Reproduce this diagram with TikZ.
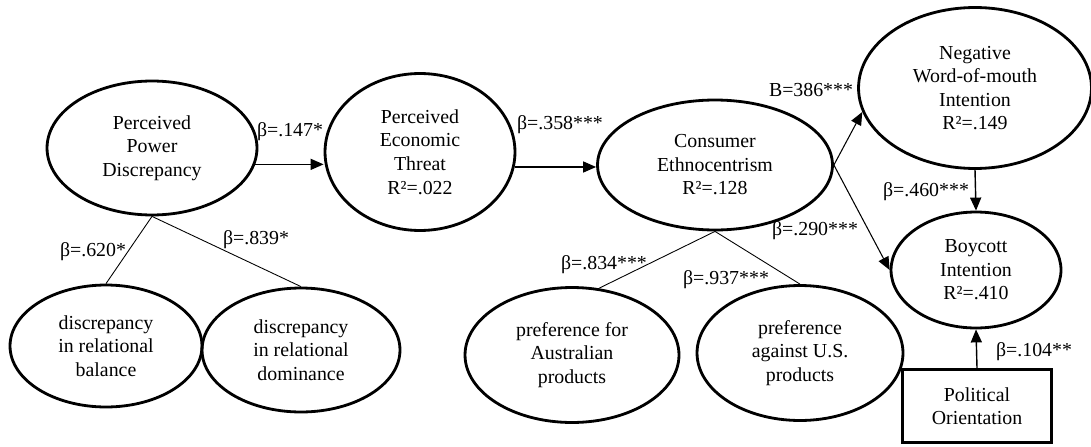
\documentclass[tikz,border=0pt]{standalone}
\usepackage{fontspec}
\setmainfont{Liberation Serif}
\usetikzlibrary{shapes.geometric,arrows.meta}

\tikzset{
  construct/.style={draw, ellipse, line width=1.6pt, inner sep=0pt, align=center,
    font=\fontsize{11.3}{13.4}\selectfont},
  observed/.style={draw, rectangle, line width=1.6pt, inner sep=0pt, align=center,
    font=\fontsize{11.3}{13.4}\selectfont},
  effect/.style={line width=0.8pt, -{Triangle[length=0.26cm,width=0.22cm]}},
  loading/.style={line width=0.5pt},
  coef/.style={inner sep=0pt, font=\fontsize{11.3}{13.4}\selectfont}
}

\begin{document}
\begin{tikzpicture}[x=0.02cm, y=-0.02cm]

  \useasboundingbox (0,0) rectangle (1091,446);

  % structural model
  \node[construct, minimum width=4.2cm, minimum height=2.68cm] (ppd) at (152,148) {Perceived\\Power\\Discrepancy};
  \node[construct, minimum width=3.8cm, minimum height=3.14cm] (pet) at (420,152) {Perceived\\Economic\\Threat\\R²=.022};
  \node[construct, minimum width=4.7cm, minimum height=2.6cm] (ce) at (715,165) {Consumer\\Ethnocentrism\\R²=.128};
  \node[construct, minimum width=4.66cm, minimum height=3.22cm] (nwom) at (975,88) {Negative\\Word-of-mouth\\Intention\\R²=.149};
  \node[construct, minimum width=3.4cm, minimum height=2.32cm] (boy) at (976,270) {Boycott\\Intention\\R²=.410};
  \node[observed, minimum width=2.98cm, minimum height=1.46cm] (pol) at (977,406) {Political\\Orientation};

  % measurement dimensions
  \node[construct, minimum width=3.84cm, minimum height=2.44cm] (bal) at (106,346) {discrepancy\\in relational\\balance};
  \node[construct, minimum width=3.96cm, minimum height=2.48cm] (dom) at (301,350) {discrepancy\\in relational\\dominance};
  \node[construct, minimum width=4.28cm, minimum height=2.7cm] (aus) at (572,355) {preference for\\Australian\\products};
  \node[construct, minimum width=4.12cm, minimum height=2.7cm] (us) at (800,353) {preference\\against U.S.\\products};

  \draw[effect] (ppd.-9.5) -- (ppd.-9.5 -| pet.west);
  \draw[effect] (pet.-9) -- (pet.-9 -| ce.west);
  \draw[effect, line width=0.6pt] (ce.east) -- (nwom.192);
  \draw[effect, line width=0.6pt] (ce.east) -- (boy.west);
  \draw[effect] (nwom.south) -- (boy.north);
  \draw[effect] (pol.north) -- (boy.south);

  \draw[loading] (ppd.south) -- (bal.north);
  \draw[loading] (ppd.south) -- (dom.north);
  \draw[loading] (ce.south) -- (aus.68);
  \draw[loading] (ce.south) -- (us.north);

  % coefficients
  \node[coef] (c147) at (290,132) {β=.147*};
  \node[coef] (c358) at (560,125) {β=.358***};
  \node[coef] (c386) at (811,90) {B=386***};
  \node[coef] (c460) at (926,192) {β=.460***};
  \node[coef] (c290) at (815,231) {β=.290***};
  \node[coef] (c104) at (1034,352) {β=.104**};
  \node[coef] (c620) at (93,252) {β=.620*};
  \node[coef] (c839) at (256,240) {β=.839*};
  \node[coef] (c834) at (604,265) {β=.834***};
  \node[coef] (c937) at (726,280) {β=.937***};

\end{tikzpicture}
\end{document}
